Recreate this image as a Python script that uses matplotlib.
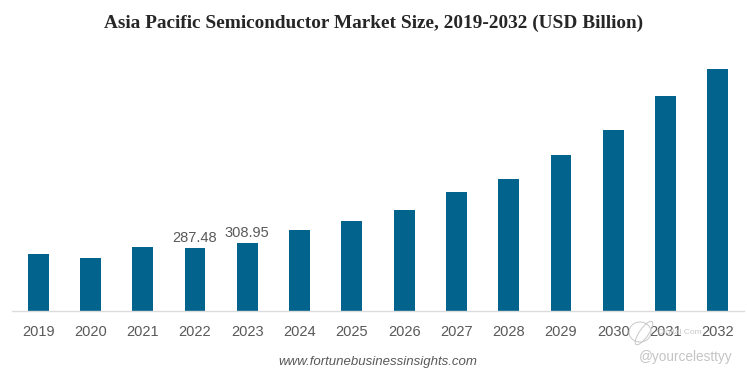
import matplotlib
matplotlib.use("Agg")
import matplotlib.pyplot as plt
from matplotlib.patches import Ellipse
from matplotlib.transforms import IdentityTransform

years = ["2019", "2020", "2021", "2022", "2023", "2024", "2025",
         "2026", "2027", "2028", "2029", "2030", "2031", "2032"]
values = [259, 241, 290, 287.48, 308.95, 369, 410, 460, 541, 600, 710, 824, 978, 1101]
labelled = {"2022": "287.48", "2023": "308.95"}

W, H = 747, 373
fig = plt.figure(figsize=(W / 100, H / 100), dpi=100)
ax = fig.add_axes([12 / W, (H - 311) / H, 732 / W, 271 / H])

pos = list(range(len(years)))
bars = ax.bar(pos, values, width=0.4, color="#02638d")

ax.set_xlim(-0.5, 13.5)
ax.set_ylim(0, 271 * 4.55)
ax.set_yticks([])
ax.set_xticks(pos)
ax.set_xticklabels(years, family="Liberation Sans", fontsize=10.5, color="#595959")
ax.tick_params(axis="x", length=0, pad=10)

for s in ["top", "left", "right"]:
    ax.spines[s].set_visible(False)
ax.spines["bottom"].set_color("#dcdcdc")
ax.spines["bottom"].set_linewidth(1)

# only two bars carry a value
for b, y in zip(bars, years):
    if y in labelled:
        ax.annotate(labelled[y], (b.get_x() + b.get_width() / 2, b.get_height()),
                    xytext=(0, 2), textcoords="offset points", ha="center", va="bottom",
                    family="Liberation Sans", fontsize=10.5, color="#595959")

fig.text(374 / W, 1 - 23 / H, "Asia Pacific Semiconductor Market Size, 2019-2032 (USD Billion)",
         family="Liberation Serif", weight="bold", fontsize=13.85, color="#262626",
         ha="center", va="center")
fig.text(378 / W, 1 - 361.5 / H, "www.fortunebusinessinsights.com", family="Liberation Sans",
         style="italic", fontsize=9.5, color="#595959", ha="center", va="center")

# watermark
fig.text(686 / W, 1 - 357 / H, "@yourcelesttyy", family="Liberation Sans", fontsize=9.8,
         color="#c4c4c4", ha="center", va="center")
fig.text(680 / W, 1 - 332 / H, "Digital Com", family="Liberation Sans", fontsize=6,
         color="#c8c8c8", ha="center", va="center")
for cx, cy, w, h, a in [(640, 332, 22, 20, 0), (644, 333, 9, 28, -35)]:
    fig.add_artist(Ellipse((cx, H - cy), w, h, angle=a, fill=False,
                           ec="#c8c8c8", lw=0.7, transform=IdentityTransform()))

fig.savefig("out.png", dpi=100)
